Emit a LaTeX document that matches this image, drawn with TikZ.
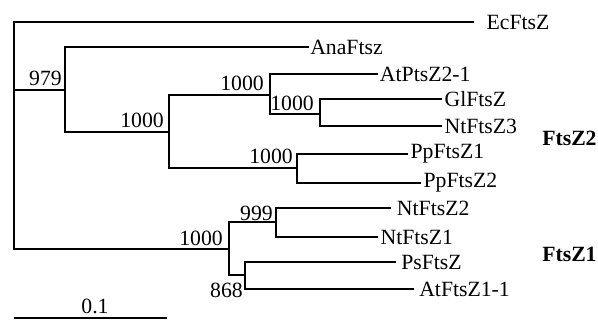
\documentclass[tikz,border=0pt]{standalone}
\usepackage{fontspec}
\setmainfont{Liberation Serif}
\begin{document}
\begin{tikzpicture}[x=0.75pt,y=-0.75pt,
  branch/.style={line width=1.6pt,line cap=rect},
  leaf/.style={anchor=west,inner xsep=2.5pt,inner ysep=0pt,font=\fontsize{16.3}{17}\selectfont},
  boot/.style={inner sep=0pt,font=\fontsize{16.3}{17}\selectfont},
  clade/.style={anchor=west,inner sep=0pt,font=\fontsize{16.3}{17}\selectfont\bfseries}]
\useasboundingbox (0,0) rectangle (598,320);

% internal nodes
\coordinate (root) at (14,135);
\coordinate (n979) at (65,90);
\coordinate (nA) at (169,132);
\coordinate (nB) at (270,95);
\coordinate (nC) at (320,114);
\coordinate (nD) at (297,168);
\coordinate (nE) at (229,249);
\coordinate (nF) at (276,222);
\coordinate (nG) at (245,275);

% leaves
\node[leaf,inner xsep=10pt] (ec) at (473,22) {EcFtsZ};
\node[leaf,inner xsep=1.5pt] (ana) at (308,47) {AnaFtsz};
\node[leaf,inner xsep=2pt] (atp) at (377,74) {AtPtsZ2-1};
\node[leaf] (gl) at (441,99) {GlFtsZ};
\node[leaf] (nt3) at (441,126) {NtFtsZ3};
\node[leaf] (pp1) at (407,154) {PpFtsZ1};
\node[leaf] (pp2) at (420,183) {PpFtsZ2};
\node[leaf,inner xsep=5pt] (nt2) at (390,208) {NtFtsZ2};
\node[leaf] (nt1) at (377,237) {NtFtsZ1};
\node[leaf,inner xsep=4.5pt] (ps) at (395,262) {PsFtsZ};
\node[leaf,inner xsep=4.5pt] (at11) at (413,289) {AtFtsZ1-1};

% branches
\draw[branch] (root) |- (ec.west);
\draw[branch] (root) |- (n979);
\draw[branch] (root) |- (nE);
\draw[branch] (n979) |- (ana.west);
\draw[branch] (n979) |- (nA);
\draw[branch] (nA) |- (nB);
\draw[branch] (nA) |- (nD);
\draw[branch] (nB) |- (atp.west);
\draw[branch] (nB) |- (nC);
\draw[branch] (nC) |- (gl.west);
\draw[branch] (nC) |- (nt3.west);
\draw[branch] (nD) |- (pp1.west);
\draw[branch] (nD) |- (pp2.west);
\draw[branch] (nE) |- (nF);
\draw[branch] (nE) |- (nG);
\draw[branch] (nF) |- (nt2.west);
\draw[branch] (nF) |- (nt1.west);
\draw[branch] (nG) |- (ps.west);
\draw[branch] (nG) |- (at11.west);

% bootstrap values
\node[boot,anchor=east] (b979) at (62,78) {979};
\node[boot,anchor=east] (bA) at (164,120) {1000};
\node[boot,anchor=east] (bB) at (264,83) {1000};
\node[boot,anchor=east] (bC) at (314,103) {1000};
\node[boot,anchor=east] (bD) at (293,156) {1000};
\node[boot,anchor=east] (bE) at (223,238) {1000};
\node[boot,anchor=east] (bF) at (273,213) {999};
\node[boot,anchor=east] (bG) at (243,290) {868};

% group labels
\node[clade] (g2) at (542,138) {FtsZ2};
\node[clade] (g1) at (542,254) {FtsZ1};

% scale bar
\coordinate (s0) at (14,318);
\coordinate (s1) at (167,318);
\draw[branch,line cap=butt] (s0) -- (s1);
\node[boot] (sl) at (95,306) {0.1};
\end{tikzpicture}
\end{document}
